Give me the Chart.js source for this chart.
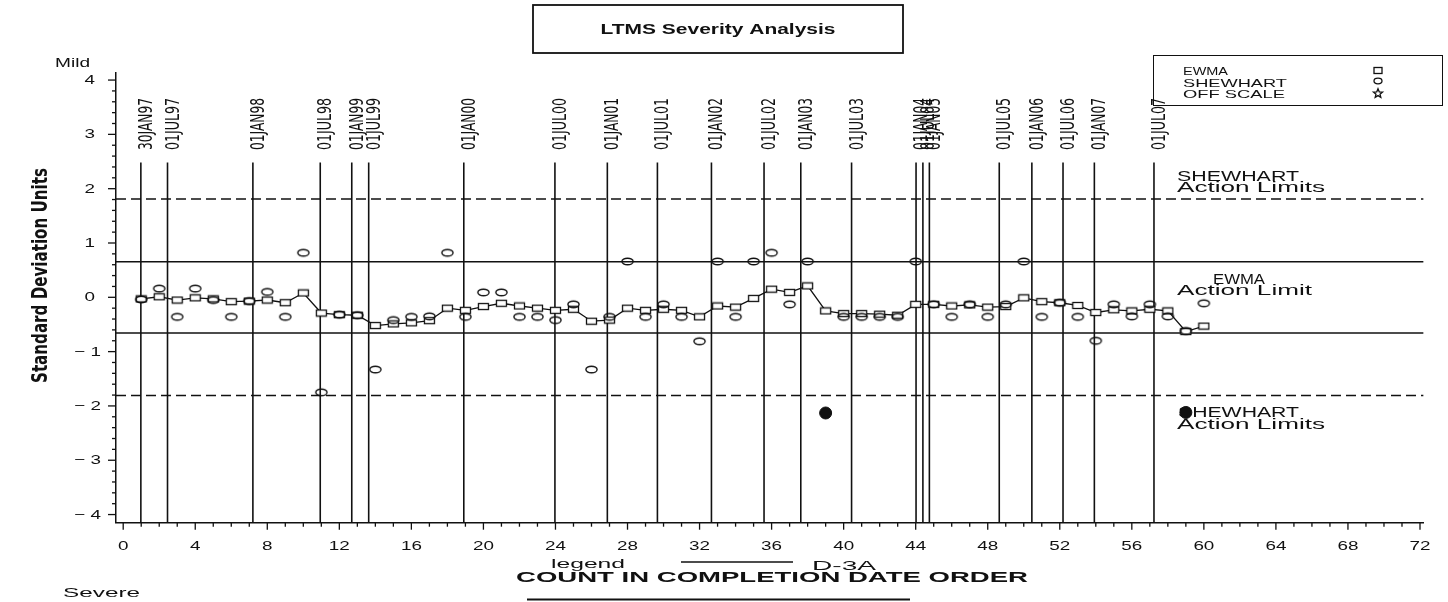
<!DOCTYPE html>
<html><head><meta charset="utf-8">
<script src="https://cdn.jsdelivr.net/npm/chart.js@4.4.0/dist/chart.umd.min.js"></script>
<style>html,body{margin:0;padding:0;background:#fff;}#wrap{width:1448px;height:602px;position:relative;}</style>
</head><body><div id="wrap"><canvas id="c" width="1448" height="602"></canvas></div>
<script>
// ---------------- DATA ----------------
const counts = [1,2,3,4,5,6,7,8,9,10,11,12,13,14,15,16,17,18,19,20,21,22,23,24,25,26,27,28,29,30,
  31,32,33,34,35,36,37,38,39,40,41,42,43,44,45,46,47,48,49,50,51,52,53,54,55,56,57,58,59,60];
const ewmaValues = [-0.03,0.01,-0.05,-0.01,-0.03,-0.08,-0.07,-0.05,-0.10,0.08,
  -0.29,-0.32,-0.33,-0.52,-0.49,-0.47,-0.43,-0.20,-0.24,-0.17,
  -0.11,-0.16,-0.20,-0.24,-0.22,-0.44,-0.42,-0.20,-0.24,-0.22,
  -0.24,-0.36,-0.16,-0.18,-0.02,0.15,0.09,0.21,-0.25,-0.30,
  -0.30,-0.31,-0.33,-0.13,-0.13,-0.16,-0.14,-0.18,-0.17,-0.01,
  -0.08,-0.10,-0.15,-0.28,-0.23,-0.25,-0.22,-0.25,-0.63,-0.53];
const shewhartValues = [-0.04,0.16,-0.36,0.16,-0.05,-0.36,-0.07,0.10,-0.36,0.82,
  -1.75,-0.32,-0.33,-1.33,-0.42,-0.36,-0.35,0.82,-0.36,0.09,
  0.09,-0.36,-0.36,-0.42,-0.13,-1.33,-0.36,0.66,-0.36,-0.13,
  -0.36,-0.81,0.66,-0.36,0.66,0.82,-0.13,0.66,null,-0.36,
  -0.36,-0.36,-0.36,0.66,-0.13,-0.36,-0.13,-0.36,-0.13,0.66,
  -0.36,-0.10,-0.36,-0.80,-0.13,-0.35,-0.13,-0.35,-0.62,-0.11];
const offScaleCounts = [39, 59];
const offScaleValues = [-2.13, -2.12];
const dateLabels = ['30JAN97','01JUL97','01JAN98','01JUL98','01JAN99','01JUL99','01JAN00','01JUL00',
  '01JAN01','01JUL01','01JAN02','01JUL02','01JAN03','01JUL03','01JAN04','01JUL04','01JAN05',
  '01JUL05','01JAN06','01JUL06','01JAN07','01JUL07'];
const datePositions = [0.98,2.46,7.2,10.94,12.69,13.63,18.91,23.97,26.88,29.66,32.66,35.58,37.62,40.44,
  44.02,44.4,44.76,48.64,50.45,52.18,53.92,57.23];
const shewhartLimit = 1.81;
const ewmaLimit = 0.655;
const dateLineTop = 2.48;
const xTickValues = [0,4,8,12,16,20,24,28,32,36,40,44,48,52,56,60,64,68,72];
const xTickLabels = ['0','4','8','12','16','20','24','28','32','36','40','44','48','52','56','60','64','68','72'];
const yTickValues = [-4,-3,-2,-1,0,1,2,3,4];
const yTickLabels = ['\u2212 4','\u2212 3','\u2212 2','\u2212 1','0','1','2','3','4'];
const xRange = [-0.4, 72.2];
const yRange = [-4.15, 4.13];

// ---------------- STYLE ----------------
const INK = '#111';
const FONT = '"Liberation Sans", Arial, sans-serif';
const NARROW = '"Liberation Sans Narrow", "DejaVu Sans Condensed", "Liberation Sans", sans-serif';

function makeEllipse() {
  const c = document.createElement('canvas'); c.width = 15; c.height = 11;
  const g = c.getContext('2d');
  g.strokeStyle = INK; g.lineWidth = 1.4;
  g.beginPath(); g.ellipse(7.5, 5.5, 5.6, 3.3, 0, 0, Math.PI * 2); g.stroke();
  return c;
}
function makeRect() {
  const c = document.createElement('canvas'); c.width = 13; c.height = 9;
  const g = c.getContext('2d');
  g.fillStyle = '#fff'; g.fillRect(1.5, 1.5, 10, 6);
  g.strokeStyle = INK; g.lineWidth = 1.3;
  g.strokeRect(1.5, 1.5, 10, 6);
  return c;
}
const ellipseImg = makeEllipse();
const rectImg = makeRect();

function fitText(ctx, text, x, y, width, font, align) {
  ctx.save();
  ctx.font = font; ctx.textBaseline = 'middle'; ctx.textAlign = 'left';
  const w = ctx.measureText(text).width;
  const left = align === 'center' ? x - width / 2 : align === 'right' ? x - width : x;
  ctx.translate(left, y); ctx.scale(width / w, 1);
  ctx.fillText(text, 0, 0);
  ctx.restore();
}
function scaledText(ctx, text, x, y, sx, font, align) {
  ctx.save();
  ctx.font = font; ctx.textBaseline = 'middle'; ctx.textAlign = 'left';
  const w = ctx.measureText(text).width * sx;
  const left = align === 'center' ? x - w / 2 : align === 'right' ? x - w : x;
  ctx.translate(left, y); ctx.scale(sx, 1);
  ctx.fillText(text, 0, 0);
  ctx.restore();
}
function seg(ctx, x1, y1, x2, y2) { ctx.beginPath(); ctx.moveTo(x1, y1); ctx.lineTo(x2, y2); ctx.stroke(); }

// ---------------- DATASETS ----------------
const datasets = [];
datasets.push({
  label: 'SHEWHART', order: 0, showLine: false,
  data: counts.map((c, i) => ({x: c, y: shewhartValues[i]})),
  pointStyle: ellipseImg, pointRadius: 5
});
datasets.push({
  label: 'OFF SCALE', order: 0, showLine: false,
  data: offScaleCounts.map((c, i) => ({x: c, y: offScaleValues[i]})),
  pointStyle: 'circle', pointRadius: 6, backgroundColor: INK, borderColor: INK, borderWidth: 1
});
datasets.push({
  label: 'EWMA', order: 1, showLine: true,
  data: counts.map((c, i) => ({x: c, y: ewmaValues[i]})),
  borderColor: INK, borderWidth: 1.3, pointStyle: rectImg, pointRadius: 5, tension: 0
});
[shewhartLimit, -shewhartLimit].forEach(v => datasets.push({
  label: 'shewhart limit', order: 2, showLine: true, pointRadius: 0,
  data: [{x: xRange[0], y: v}, {x: xRange[1], y: v}],
  borderColor: INK, borderWidth: 1.5, borderDash: [10, 5]
}));
[ewmaLimit, -ewmaLimit].forEach(v => datasets.push({
  label: 'ewma limit', order: 2, showLine: true, pointRadius: 0,
  data: [{x: xRange[0], y: v}, {x: xRange[1], y: v}],
  borderColor: INK, borderWidth: 1.5
}));
datePositions.forEach(d => datasets.push({
  label: 'date', order: 3, showLine: true, pointRadius: 0,
  data: [{x: d, y: dateLineTop}, {x: d, y: yRange[0]}],
  borderColor: INK, borderWidth: 1.6
}));

// ---------------- DECORATION PLUGIN ----------------
const decor = {
  id: 'decor',
  beforeDatasetsDraw(chart) {
    const ctx = chart.ctx;
    ctx.fillStyle = INK;
    fitText(ctx, 'SHEWHART', 1177, 177, 122, '14px ' + FONT, 'left');
    fitText(ctx, 'Action Limits', 1177, 188, 148, '14px ' + FONT, 'left');
    fitText(ctx, 'EWMA', 1213, 280, 52, '14px ' + FONT, 'left');
    fitText(ctx, 'Action Limit', 1177, 291, 135, '14px ' + FONT, 'left');
    fitText(ctx, 'SHEWHART', 1178, 413, 121, '14px ' + FONT, 'left');
    fitText(ctx, 'Action Limits', 1177, 425, 148, '14px ' + FONT, 'left');
  },
  afterDraw(chart) {
    const {ctx, chartArea: ca} = chart;
    const xs = chart.scales.x, ys = chart.scales.y;
    ctx.save();
    ctx.strokeStyle = INK; ctx.fillStyle = INK;
    // y ticks
    ctx.lineWidth = 1.3;
    for (let k = Math.round(yTickValues[0] * 5); k <= Math.round(yTickValues[yTickValues.length - 1] * 5); k++) {
      const py = ys.getPixelForValue(k / 5);
      seg(ctx, ca.left - (k % 5 === 0 ? 8 : 4), py, ca.left, py);
    }
    yTickValues.forEach((v, i) => {
      const py = ys.getPixelForValue(v);
      scaledText(ctx, yTickLabels[i], v < 0 ? 101 : 95, py + 0.5, 1.45, '13px ' + FONT, 'right');
    });
    // x ticks
    for (let v = xTickValues[0]; v <= xTickValues[xTickValues.length - 1]; v++) {
      const px = xs.getPixelForValue(v);
      seg(ctx, px, ca.bottom, px, ca.bottom + (v % 4 === 0 ? 7 : 4));
    }
    xTickValues.forEach((v, i) => {
      scaledText(ctx, xTickLabels[i], xs.getPixelForValue(v), 546, 1.45, '13px ' + FONT, 'center');
    });
    // date labels
    dateLabels.forEach((lab, i) => {
      const px = xs.getPixelForValue(datePositions[i]);
      ctx.save();
      ctx.font = '19px ' + NARROW; ctx.textAlign = 'left'; ctx.textBaseline = 'alphabetic';
      const w = ctx.measureText(lab).width;
      ctx.translate(px + 11, 150); ctx.rotate(-Math.PI / 2); ctx.scale(52 / w, 1);
      ctx.fillText(lab, 0, 0);
      ctx.restore();
    });
    // axis title
    ctx.save();
    ctx.font = 'bold 21px ' + NARROW; ctx.textAlign = 'left'; ctx.textBaseline = 'alphabetic';
    const tw = ctx.measureText('Standard Deviation Units').width;
    ctx.translate(47, 275.5); ctx.rotate(-Math.PI / 2); ctx.scale(215 / tw, 1);
    ctx.fillText('Standard Deviation Units', -tw / 2, 0);
    ctx.restore();
    // Mild / Severe
    fitText(ctx, 'Mild', 55, 63, 35, '13px ' + FONT, 'left');
    fitText(ctx, 'Severe', 63, 593, 77, '13px ' + FONT, 'left');
    // title
    ctx.lineWidth = 1.8;
    ctx.strokeRect(533, 5, 370, 48);
    fitText(ctx, 'LTMS Severity Analysis', 718, 30, 235, 'bold 15px ' + FONT, 'center');
    // legend box
    ctx.lineWidth = 1;
    ctx.strokeRect(1153.5, 55.5, 289, 50);
    fitText(ctx, 'EWMA', 1183, 72, 45, '11px ' + FONT, 'left');
    fitText(ctx, 'SHEWHART', 1183, 83.5, 104, '11px ' + FONT, 'left');
    fitText(ctx, 'OFF SCALE', 1183, 95, 102, '11px ' + FONT, 'left');
    ctx.lineWidth = 1.3;
    ctx.strokeRect(1374, 67.5, 8, 6);
    ctx.beginPath(); ctx.ellipse(1378, 81, 4, 2.8, 0, 0, Math.PI * 2); ctx.stroke();
    ctx.beginPath();
    for (let k = 0; k < 10; k++) {
      const r = k % 2 === 0 ? 4.8 : 2.1, a = -Math.PI / 2 + k * Math.PI / 5;
      const px = 1378 + r * Math.cos(a), py = 93.5 + r * Math.sin(a);
      if (k === 0) ctx.moveTo(px, py); else ctx.lineTo(px, py);
    }
    ctx.closePath(); ctx.stroke();
    // bottom legend / axis title
    fitText(ctx, 'legend', 551, 564, 74, '13px ' + FONT, 'left');
    ctx.lineWidth = 1.5;
    seg(ctx, 681, 562, 793, 562);
    fitText(ctx, 'D-3A', 812, 566, 64, '13px ' + FONT, 'left');
    fitText(ctx, 'COUNT IN COMPLETION DATE ORDER', 516, 578, 512, 'bold 15px ' + FONT, 'left');
    ctx.lineWidth = 2;
    seg(ctx, 527, 599.5, 910, 599.5);
    ctx.restore();
  }
};

new Chart(document.getElementById('c').getContext('2d'), {
  type: 'scatter',
  data: {datasets},
  options: {
    responsive: false, animation: false, devicePixelRatio: 1,
    layout: {padding: {left: 116, right: 24.4, top: 73, bottom: 79.3}},
    plugins: {legend: {display: false}, tooltip: {enabled: false}, title: {display: false}},
    scales: {
      x: {type: 'linear', min: xRange[0], max: xRange[1],
        ticks: {display: false}, grid: {display: false, drawTicks: false},
        border: {display: true, color: INK, width: 1.5},
        afterFit: s => { s.height = 0; }},
      y: {type: 'linear', min: yRange[0], max: yRange[1],
        ticks: {display: false}, grid: {display: false, drawTicks: false},
        border: {display: true, color: INK, width: 1.5},
        afterFit: s => { s.width = 0; }}
    }
  },
  plugins: [decor]
});
</script></body></html>
